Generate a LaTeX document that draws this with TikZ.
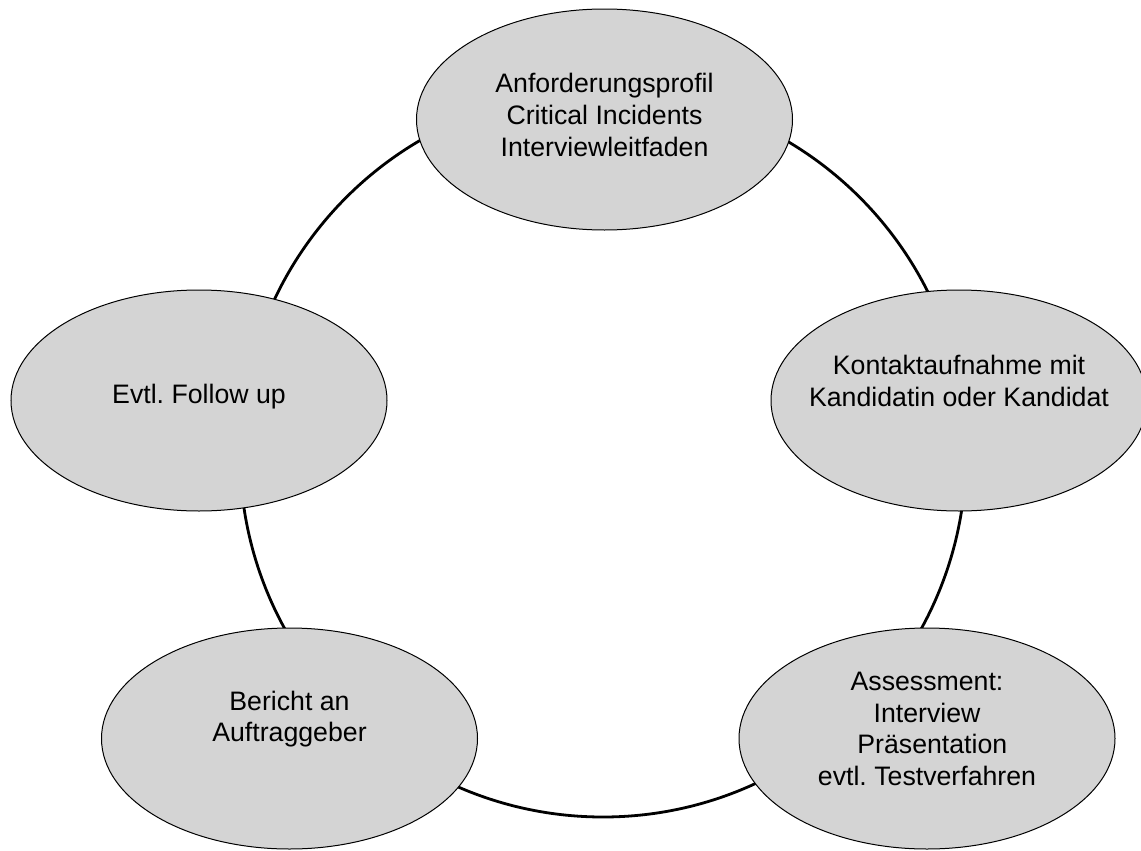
\documentclass[tikz,border=0pt]{standalone}
\usepackage{fontspec}
\setmainfont{Liberation Sans}
\usepackage{xcolor}
\usepackage{tikz}
\usetikzlibrary{shapes.geometric}
\definecolor{figFill}{HTML}{D4D4D4}
\definecolor{figLine}{HTML}{000000}
\frenchspacing

\begin{document}
\begin{tikzpicture}[
  x=0.5pt, y=-0.5pt,
  every node/.style={font=\fontsize{13.35}{15.85}\selectfont},
  phase/.style={ellipse, draw=figLine, line width=0.5pt, fill=figFill,
    minimum width=188pt, minimum height=110.5pt, inner sep=0pt},
  txt/.style={align=center, inner sep=0pt},
  ring/.style={line width=1.4pt, figLine},
]
\useasboundingbox (0,0) rectangle (1141,851);

% === cycle ===
\coordinate (hub) at (603,454);
\draw[ring] (hub) circle [radius=181.5pt];

% === phases ===
\node[phase] (profil) at (604.5,119.5) {};
\node[phase] (kontakt) at (959,400.5) {};
\node[phase] (assess) at (927,738.5) {};
\node[phase] (bericht) at (289.5,738.5) {};
\node[phase] (follow) at (199,400.5) {};

% === labels ===
\node[txt] (profil-txt) at (604.5,115) {Anforderungsprofil\\Critical Incidents\\Interviewleitfaden};
\node[txt] (kontakt-txt) at (959,381) {Kontaktaufnahme mit\\Kandidatin oder Kandidat};
\node[txt] (assess-txt) at (927,729) {Assessment:\\Interview\\\hspace{0.4em}Präsentation\\evtl. Testverfahren};
\node[txt] (bericht-txt) at (289.5,719) {Bericht an\\Auftraggeber};
\node[txt] (follow-txt) at (199,397) {Evtl. Follow up};
\end{tikzpicture}
\end{document}
